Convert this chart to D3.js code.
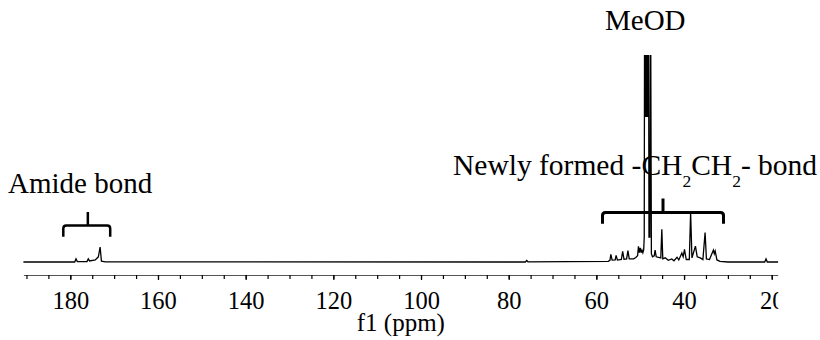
<!DOCTYPE html>
<html>
<head>
<meta charset="utf-8">
<script src="https://cdn.jsdelivr.net/npm/d3@7"></script>
<style>
  body { margin: 0; background: #fff; }
  svg text { font-family: "Liberation Serif", "Times New Roman", serif; fill: #000; }
</style>
</head>
<body>
<div id="chart"></div>
<script>
// 13C NMR trace: chemical shift (ppm) and intensity (a.u.)
const ppm = [190.7, 179.0, 178.7, 178.4, 176.2, 175.9, 175.6, 174.3, 173.6, 173.2, 172.9, 172.0,
  76.2, 75.9, 75.6,
  57.3, 56.9, 56.7, 56.4, 55.7, 55.5, 55.2, 54.3, 54.0, 53.7, 53.1, 52.8, 52.5, 51.5, 51.0,
  50.6, 50.4, 50.2, 50.0, 49.8, 49.6, 49.4, 49.2, 49.08,
  49.0, 48.92, 48.85, 48.78, 48.7, 48.62, 48.55, 48.47, 48.4, 48.32, 48.25, 48.17, 48.1,
  48.0, 47.8, 47.63, 47.45,
  47.2, 46.8, 46.6, 46.35, 45.3, 45.07, 44.85, 44.3, 43.6, 42.8, 42.3, 41.6, 41.2,
  40.5, 40.2, 39.9, 39.5, 38.8, 38.5, 38.2, 37.4, 37.0, 36.3, 35.7, 35.2, 34.9, 34.2,
  33.3, 33.1, 32.9, 32.5, 31.8, 30.0, 21.6, 21.3, 21.0, 18.5];
const intensity = [0, 0, 1.5, 0.2, 0.2, 1.5, 0.5, 1.0, 2.5, 7.2, 0.4, 0.1,
  0, 0.7, 0.1,
  0.3, 0.8, 3.7, 0.9, 1.0, 3.2, 0.9, 1.2, 5.2, 1.3, 1.5, 5.5, 1.5, 1.5, 2.2,
  3.0, 7.6, 4.5, 6.8, 4.5, 5.8, 4.5, 6.0, 12,
  130, 70, 130, 70, 130, 70, 130, 70, 130, 70, 130, 70, 130,
  12, 12, 130, 4,
  2.5, 3.0, 5.8, 2.5, 2.0, 15.8, 1.5, 2.0, 0.8, 1.5, 0.6, 2.3, 1.0,
  4.3, 2.5, 6.1, 1.2, 1.2, 24.2, 2.0, 7.7, 2.5, 2.0, 1.2, 14.2, 1.5, 1.2,
  5.8, 4.0, 5.3, 1.0, 0.3, 0, 0, 1.5, 0, 0];

const labelTicks = [180, 160, 140, 120, 100, 80, 60, 40, 20];
const minorTicks = d3.range(190, 15, -5);

// bracketed regions (ppm): from, to, centre
const bracketFrom = [181.6, 58.6];
const bracketTo = [170.9, 31.0];
const bracketMid = [176.0, 44.8];

const W = 820, H = 340;
const plotTop = 55, baseY = 262, axisY = 275, clipRight = 778.3;
const serif = "'Liberation Serif', 'Times New Roman', serif";

const svg = d3.select("#chart").append("svg")
  .attr("width", W)
  .attr("height", H);

const x = d3.scaleLinear()
  .domain([190.7, 18.5])
  .range([23.4, clipRight]);

const y = d3.scaleLinear()
  .domain([0, 100])
  .range([baseY, plotTop]);

const defs = svg.append("defs");
defs.append("clipPath").attr("id", "plotClip")
  .append("rect")
  .attr("x", 0).attr("y", plotTop)
  .attr("width", clipRight).attr("height", H - plotTop);
defs.append("clipPath").attr("id", "axisClip")
  .append("rect")
  .attr("x", 0).attr("y", 0)
  .attr("width", clipRight).attr("height", H);

// spectrum
const pts = ppm.map((p, i) => [p, intensity[i]]);
svg.append("g")
  .attr("clip-path", "url(#plotClip)")
  .append("path")
  .datum(pts)
  .attr("fill", "none")
  .attr("stroke", "#000")
  .attr("stroke-width", 1.3)
  .attr("stroke-linejoin", "miter")
  .attr("d", d3.line().x(d => x(d[0])).y(d => y(d[1])));

// axis
const axisG = svg.append("g").attr("clip-path", "url(#axisClip)");

const minorAxis = axisG.append("g")
  .attr("transform", "translate(0," + axisY + ")")
  .call(d3.axisBottom(x).tickValues(minorTicks).tickSizeInner(4).tickSizeOuter(0).tickFormat(""));
minorAxis.select(".domain").attr("stroke", "#555").attr("stroke-width", 1.2);
minorAxis.selectAll(".tick line").attr("stroke", "#000").attr("stroke-width", 1.2);

const majorAxis = axisG.append("g")
  .attr("transform", "translate(0," + axisY + ")")
  .attr("font-family", serif)
  .call(d3.axisBottom(x).tickValues(labelTicks).tickSizeInner(5).tickSizeOuter(0).tickFormat(d3.format("d")));
majorAxis.attr("font-family", serif).attr("font-size", 24.5);
majorAxis.select(".domain").remove();
majorAxis.selectAll(".tick line").attr("stroke", "#000").attr("stroke-width", 1.2);
majorAxis.selectAll(".tick text")
  .attr("y", 34)
  .attr("dy", null)
  .attr("fill", "#000");

svg.append("text")
  .attr("x", (x.range()[0] + x.range()[1]) / 2)
  .attr("y", 331)
  .attr("text-anchor", "middle")
  .attr("font-size", 25)
  .text("f1 (ppm)");

// brackets
const armDrop = [11.2, 11.2], midRise = [13.5, 14];
const bracketY = [225.5, 212.5], bracketW = [2.5, 3];
bracketFrom.forEach((f, i) => {
  const x0 = x(f), x1 = x(bracketTo[i]), xm = x(bracketMid[i]);
  const yb = bracketY[i], r = 3;
  const p = d3.path();
  p.moveTo(x0, yb + armDrop[i]);
  p.lineTo(x0, yb + r);
  p.quadraticCurveTo(x0, yb, x0 + r, yb);
  p.lineTo(x1 - r, yb);
  p.quadraticCurveTo(x1, yb, x1, yb + r);
  p.lineTo(x1, yb + armDrop[i]);
  p.moveTo(xm, yb);
  p.lineTo(xm, yb - midRise[i]);
  svg.append("path")
    .attr("d", p.toString())
    .attr("fill", "none")
    .attr("stroke", "#000")
    .attr("stroke-width", bracketW[i]);
});

// annotations
svg.append("text")
  .attr("x", 8).attr("y", 193)
  .attr("font-size", 29)
  .text("Amide bond");

svg.append("text")
  .attr("x", 605).attr("y", 30)
  .attr("font-size", 29)
  .text("MeOD");

const newly = svg.append("text")
  .attr("x", 453).attr("y", 175)
  .attr("font-size", 29.5);
newly.append("tspan").text("Newly formed -CH");
newly.append("tspan").attr("font-size", 17.5).attr("dy", 11.7).text("2");
newly.append("tspan").attr("dy", -11.7).text("CH");
newly.append("tspan").attr("font-size", 17.5).attr("dy", 11.7).text("2");
newly.append("tspan").attr("dy", -11.7).text("- bond");
</script>
</body>
</html>
